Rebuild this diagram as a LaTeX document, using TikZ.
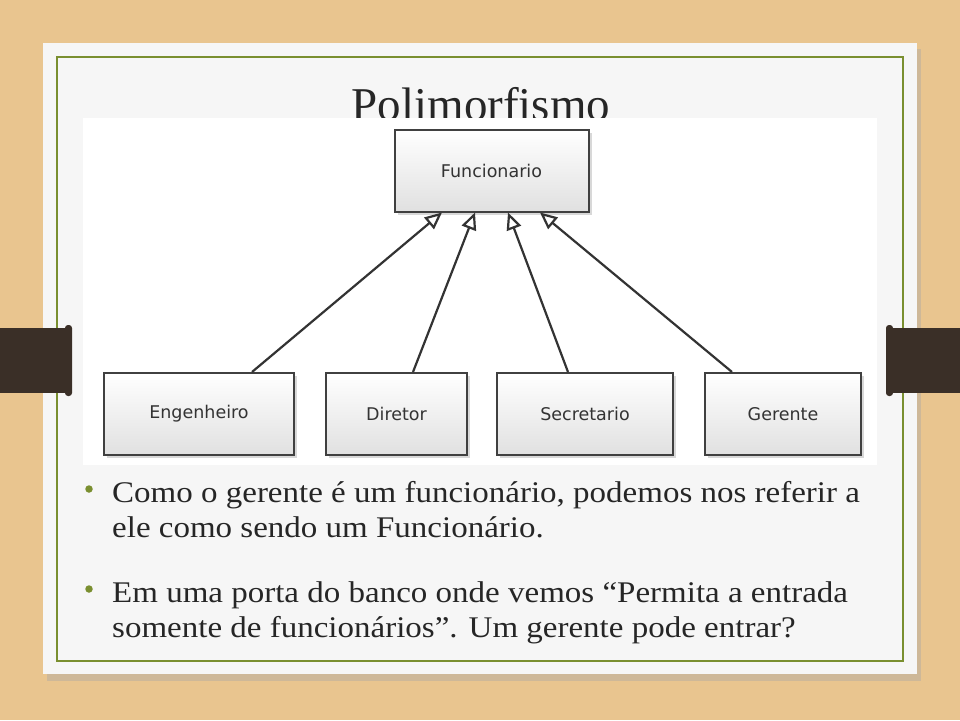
\documentclass[tikz,border=0pt]{standalone}
\usepackage{fontspec}
\setmainfont{Liberation Serif}
\newfontfamily\bodyfont[FakeStretch=1.1]{Liberation Serif}
\newfontfamily\umlfont{DejaVu Sans}
\usetikzlibrary{arrows.meta,shadows,positioning}
\definecolor{wood}{RGB}{233,197,143}
\definecolor{strap}{RGB}{58,47,39}
\definecolor{olive}{RGB}{122,143,48}
\definecolor{card}{RGB}{246,246,246}

\begin{document}
\begin{tikzpicture}[x=1pt,y=-1pt,
   class/.style={draw=black!75,line width=2pt,minimum height=82pt,
      top color=white,bottom color=black!12,
      drop shadow={opacity=0.3,shadow xshift=3pt,shadow yshift=-3pt},
      font=\umlfont\fontsize{17.5}{20}\selectfont,text=black!80},
   inherits/.style={draw=black!80,line width=2.2pt,
      -{Triangle[open,length=17pt,width=15pt,fill=white]}},
   dot/.style={circle,fill=olive,inner sep=0pt,minimum size=7.5pt},
   point/.style={anchor=north west,align=left,inner sep=0pt,
      font=\bodyfont\fontsize{30}{35.5}\selectfont,text=black!85}]
\useasboundingbox (0,0) rectangle (960,720);
\fill[wood] (0,0) rectangle (960,720);
\fill[black!35,opacity=0.4] (47,49) rectangle (921,681);
\fill[card] (43,43) rectangle (917,674);
\draw[olive,line width=1.5pt] (57,57) rectangle (903,661);
% straps
\fill[strap] (0,328) rectangle (70,393);
\fill[strap,rounded corners=3pt] (65,325) rectangle (72,396);
\fill[strap] (888,328) rectangle (960,393);
\fill[strap,rounded corners=3pt] (886,325) rectangle (893,396);
\node[anchor=base,font=\fontsize{47}{50}\selectfont,text=black!85] (title) at (481,120) {Polimorfismo};
\fill[white] (83,118) rectangle (877,465);
\node[class,minimum width=194pt] (func) at (491.5,170.5) {Funcionario};
\node[class,minimum width=190pt] (eng) at (199,414) {Engenheiro};
\node[class,minimum width=141pt] (dir) at (396.5,414) {Diretor};
\node[class,minimum width=176pt] (sec) at (585,414) {Secretario};
\node[class,minimum width=156pt] (ger) at (783,414) {Gerente};
\draw[inherits] ([xshift=53pt]eng.north) -- ([xshift=-49.5pt]func.south);
\draw[inherits] ([xshift=16.5pt]dir.north) -- ([xshift=-16.5pt]func.south);
\draw[inherits] ([xshift=-17pt]sec.north) -- ([xshift=16.5pt]func.south);
\draw[inherits] ([xshift=-51pt]ger.north) -- ([xshift=48.5pt]func.south);
% bullets
\node[dot] (d1) at (89,489) {};
\node[point] (p1) at (112,481) {Como o gerente é um funcionário, podemos nos referir a\\ele como sendo um Funcionário.};
\node[dot] (d2) at (89,589) {};
\node[point] (p2) at (112,581) {Em uma porta do banco onde vemos “Permita a entrada\\somente de funcionários”. Um gerente pode entrar?};
\end{tikzpicture}
\end{document}
